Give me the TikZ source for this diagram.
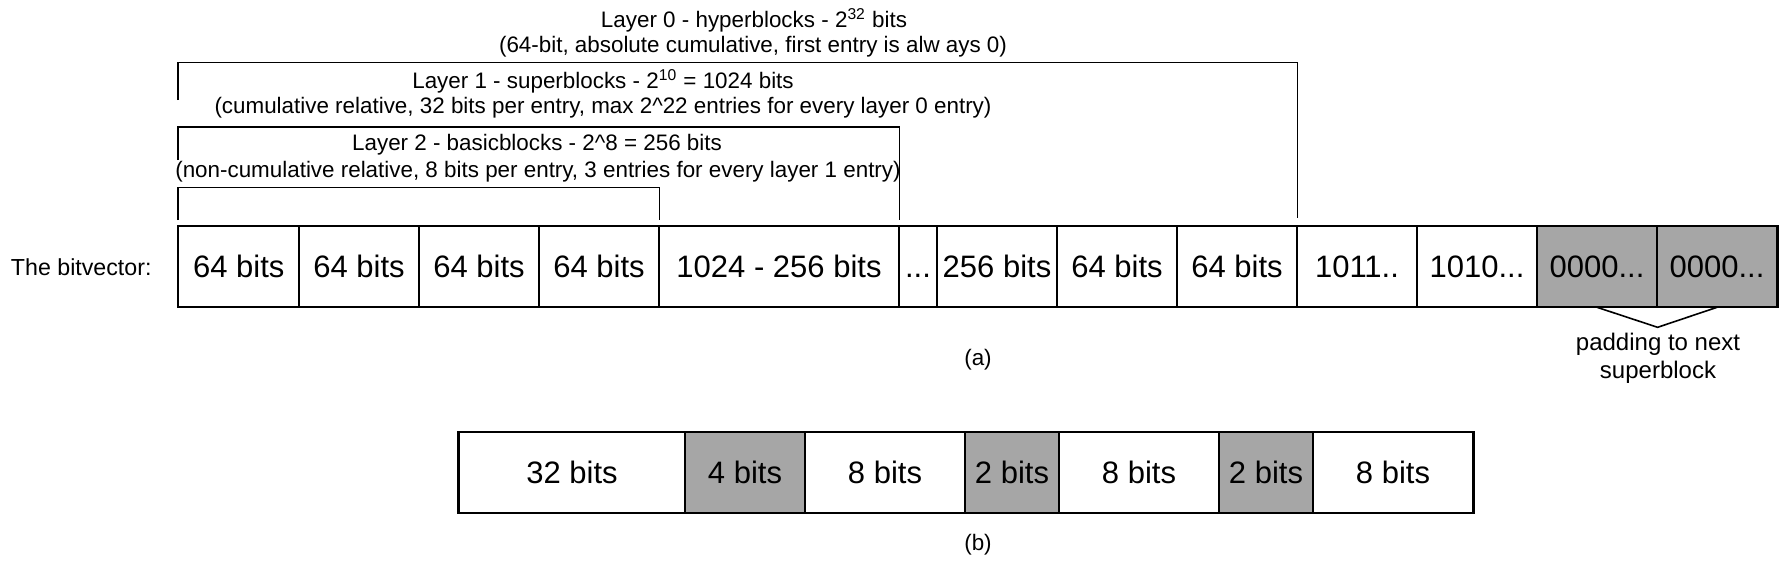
\documentclass[tikz,border=0pt]{standalone}
\usepackage{fontspec}
\setmainfont{Liberation Sans}
\usetikzlibrary{calc}
\definecolor{padgray}{RGB}{166,166,166}
\newcommand\mydots{...}
\begin{document}
\begin{tikzpicture}[x=0.5pt,y=-0.5pt,
  cell/.style={draw, line width=0.6pt, inner sep=0pt, minimum height=40pt, text height=11.2pt, text depth=0pt, font=\fontsize{15.5}{18}\selectfont},
  lbl/.style={font=\fontsize{11.2}{13.5}\selectfont, inner sep=0pt},
  bracket/.style={line width=0.8pt},
  frame/.style={line width=1.1pt}]
\useasboundingbox (0,0) rectangle (1780,574);
% row (a)
\foreach \n/\c/\w/\f/\t in {a1/238.75/120.5/white/64 bits, a2/359/120/white/64 bits, a3/479/120/white/64 bits, a4/599/120/white/64 bits, a5/779/240/white/1024 - 256 bits, a6/918/38/white/\mydots, a7/997/120/white/256 bits, a8/1117/120/white/64 bits, a9/1237/120/white/64 bits, a10/1357/120/white/1011{.}{.}, a11/1477/120/white/1010\mydots, a12/1597/120/padgray/0000\mydots, a13/1717/120/padgray/0000\mydots}
  \node[cell, fill=\f, minimum width=\w*0.5pt] (\n) at (\c,266.7) {\t};
\draw[frame] (a1.north west) rectangle (a13.south east);
\node[lbl, font=\fontsize{11.6}{14}\selectfont, anchor=east] (bv) at ($(a1.west)+(-26,0)$) {The bitvector:};
% levels
\coordinate (y0) at (0,62.3);
\coordinate (y0l) at (0,100);
\coordinate (y0r) at (0,218);
\coordinate (y1) at (0,126.7);
\coordinate (y1l) at (0,160);
\coordinate (y2) at (0,187.3);
\coordinate (yb) at (0,220);
\draw[bracket] (a1.north west |- y0l) -- (a1.north west |- y0) -- (a9.north east |- y0) -- (a9.north east |- y0r);
\draw[bracket] (a1.north west |- y1l) -- (a1.north west |- y1) -- (a5.north east |- y1) -- (a5.north east |- yb);
\draw[bracket] (a1.north west |- yb) -- (a1.north west |- y2) -- (a4.north east |- y2) -- (a4.north east |- yb);
\node[lbl] (l0a) at (754,20.7) {Layer 0 - hyperblocks - 2\textsuperscript{32} bits};
\node[lbl] (l0b) at (753,46.7) {(64-bit, absolute cumulative, first entry is alw ays 0)};
\node[lbl] (l1a) at (603,81) {Layer 1 - superblocks - 2\textsuperscript{10} = 1024 bits};
\node[lbl] (l1b) at (603,108) {(cumulative relative, 32 bits per entry, max 2\^{}22 entries for every layer 0 entry)};
\node[lbl] (l2a) at (537,145) {Layer 2 - basicblocks - 2\^{}8 = 256 bits};
\node[lbl] (l2b) at (538,171.7) {(non-cumulative relative, 8 bits per entry, 3 entries for every layer 1 entry)};
% padding brace
\coordinate (tip) at ($(a12.south east)+(0,20)$);
\draw[bracket] (a12.south) -- (tip) -- (a13.south);
\node[lbl, font=\fontsize{12}{14}\selectfont] (pad1) at (1658,344) {padding to next};
\node[lbl, font=\fontsize{12}{14}\selectfont] (pad2) at (1658,372) {superblock};
\node[lbl] (capa) at (978,360) {(a)};
% row (b)
\foreach \n/\c/\w/\f/\t in {b1/572/226/white/32 bits, b2/745/120/padgray/4 bits, b3/885/160/white/8 bits, b4/1012/94/padgray/2 bits, b5/1139/160/white/8 bits, b6/1266/94/padgray/2 bits, b7/1393/160/white/8 bits}
  \node[cell, fill=\f, minimum width=\w*0.5pt] (\n) at (\c,472.7) {\t};
\draw[frame] (b1.north west) rectangle (b7.south east);
\node[lbl] (capb) at (978,545) {(b)};
\end{tikzpicture}
\end{document}
